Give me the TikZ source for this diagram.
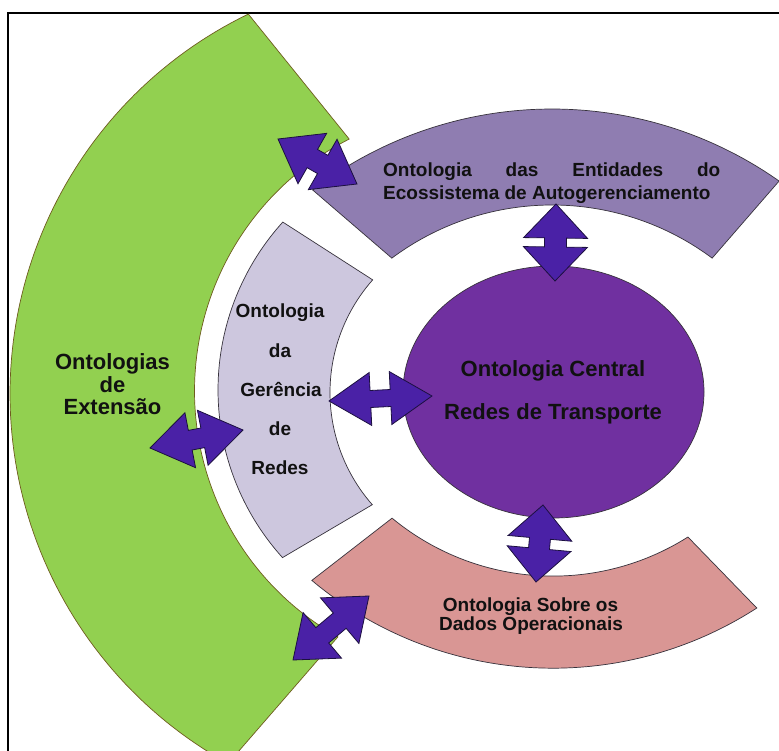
\documentclass[tikz,border=0pt]{standalone}
\usepackage{fontspec}
\setmainfont{Liberation Sans}
\usetikzlibrary{calc,shapes.geometric}

\definecolor{extgreen}{RGB}{146,208,80}
\definecolor{extedge}{RGB}{110,92,30}
\definecolor{entpurple}{RGB}{143,125,177}
\definecolor{gerlav}{RGB}{205,199,222}
\definecolor{dadospink}{RGB}{217,150,148}
\definecolor{corepurple}{RGB}{112,48,160}
\definecolor{arrowblue}{RGB}{74,33,166}
\definecolor{arrowedge}{RGB}{28,16,64}
\definecolor{bandedge}{RGB}{55,50,60}
\definecolor{ink}{RGB}{17,17,17}

\tikzset{
  bandshape/.style={fill=#1, draw=bandedge, line width=0.7pt},
  blockarrow/.style={fill=arrowblue, draw=arrowedge, line width=0.8pt, line join=miter},
  lbl/.style={inner sep=0pt, text=ink, anchor=base},
  big/.style={font=\bfseries\fontsize{22}{26}\selectfont},
  small/.style={font=\bfseries\fontsize{19}{22}\selectfont},
}

% double-headed block arrow between two named tips:
% #1,#2 tips, #3 head length, #4 head half width, #5 shaft half width
\newcommand\dblarrow[5]{%
  \path ($(#1)!#3!(#2)$) coordinate (ha) ($(#2)!#3!(#1)$) coordinate (hb);
  \draw[blockarrow] (#1) -- ($(ha)!#4!90:(#2)$) -- ($(ha)!#5!90:(#2)$)
    -- ($(hb)!#5!-90:(#1)$) -- ($(hb)!#4!-90:(#1)$) -- (#2)
    -- ($(hb)!#4!90:(#1)$) -- ($(hb)!#5!90:(#1)$)
    -- ($(ha)!#5!-90:(#2)$) -- ($(ha)!#4!-90:(#2)$) -- cycle;
}

\begin{document}
\begin{tikzpicture}[x=1pt, y=-1pt]
\useasboundingbox (0,0) rectangle (779,751);
\fill[white] (0,0) rectangle (779,751);

% outer frame
\draw[line width=1.2pt] (8,770) -- (8,13) -- (800,13);

% extension ontologies band
\path[bandshape=extgreen, draw=extedge]
  plot[domain=118.9:244.2, samples=100] ({432+422*cos(\x)},{394+422*sin(\x)})
  -- plot[domain=243.1:119.5, samples=100] ({477+282.5*cos(\x)},{391+282.5*sin(\x)})
  -- cycle;

% network management band
\path[bandshape=gerlav]
  plot[domain=137.9:222.2, samples=80] ({468+250*cos(\x)},{390+250*sin(\x)})
  -- plot[domain=221.5:138.7, samples=80] ({500+170*cos(\x)},{392.5+170*sin(\x)})
  -- cycle;

% self-management entities band
\path[bandshape=entpurple]
  plot[domain=-127.4:-54.8, samples=90] ({552+394*cos(\x)},{503+394*sin(\x)})
  -- plot[domain=-53.3:-126.7, samples=90] ({552+268*cos(\x)},{473+268*sin(\x)})
  -- cycle;

% operational data band
\path[bandshape=dadospink]
  plot[domain=129.6:57.7, samples=90] ({553+252.5*cos(\x)},{323.6+252.5*sin(\x)})
  -- plot[domain=57.1:130, samples=90] ({553+375.2*cos(\x)},{293+375.2*sin(\x)})
  -- cycle;

% central ontology
\node[ellipse, fill=corepurple, draw=bandedge, line width=0.7pt,
      minimum width=301pt, minimum height=252pt, inner sep=0pt] (core) at (553.5,392) {};

% arrow tips
\coordinate (a1s) at (278,139); \coordinate (a1e) at (357,184);
\coordinate (a2s) at (329,401); \coordinate (a2e) at (432,396);
\coordinate (a3s) at (150,448); \coordinate (a3e) at (243,430);
\coordinate (a4s) at (293,660); \coordinate (a4e) at (369,596);
\coordinate (v1s) at (556,204); \coordinate (v1e) at (555,281);
\coordinate (v2s) at (543,505); \coordinate (v2e) at (536,582);

\dblarrow{a1s}{a1e}{39.5pt}{29pt}{10.5pt}
\dblarrow{a2s}{a2e}{41.5pt}{26.5pt}{8.5pt}
\dblarrow{a3s}{a3e}{41pt}{28pt}{10pt}
\dblarrow{a4s}{a4e}{38.3pt}{29.8pt}{10pt}
\dblarrow{v1s}{v1e}{34pt}{32pt}{11pt}
\dblarrow{v2s}{v2e}{33.5pt}{32pt}{10.5pt}

% labels
\node[lbl, big] (ext1) at (112.5,369.5) {Ontologias};
\node[lbl, big] (ext2) at (112.5,392) {de};
\node[lbl, big] (ext3) at (112.5,414.5) {Extensão};

\node[lbl, big] (core1) at (553,376) {Ontologia Central};
\node[lbl, big] (core2) at (553,419) {Redes de Transporte};

\node[lbl, small] (ger1) at (280,318) {Ontologia};
\node[lbl, small] (ger2) at (280,357.5) {da};
\node[lbl, small] (ger3) at (281,396.5) {Gerência};
\node[lbl, small] (ger4) at (280,435.5) {de};
\node[lbl, small] (ger5) at (280,474.5) {Redes};

\node[lbl, small, anchor=base west] (ent1) at (383,176.5)
  {\makebox[337pt][s]{Ontologia das Entidades do}};
\node[lbl, small, anchor=base west] (ent2) at (383,200)
  {Ecossistema de Autogerenciamento};

\node[lbl, small] (dad1) at (530.5,611.5) {Ontologia Sobre os};
\node[lbl, small] (dad2) at (531,630) {Dados Operacionais};
\end{tikzpicture}
\end{document}
